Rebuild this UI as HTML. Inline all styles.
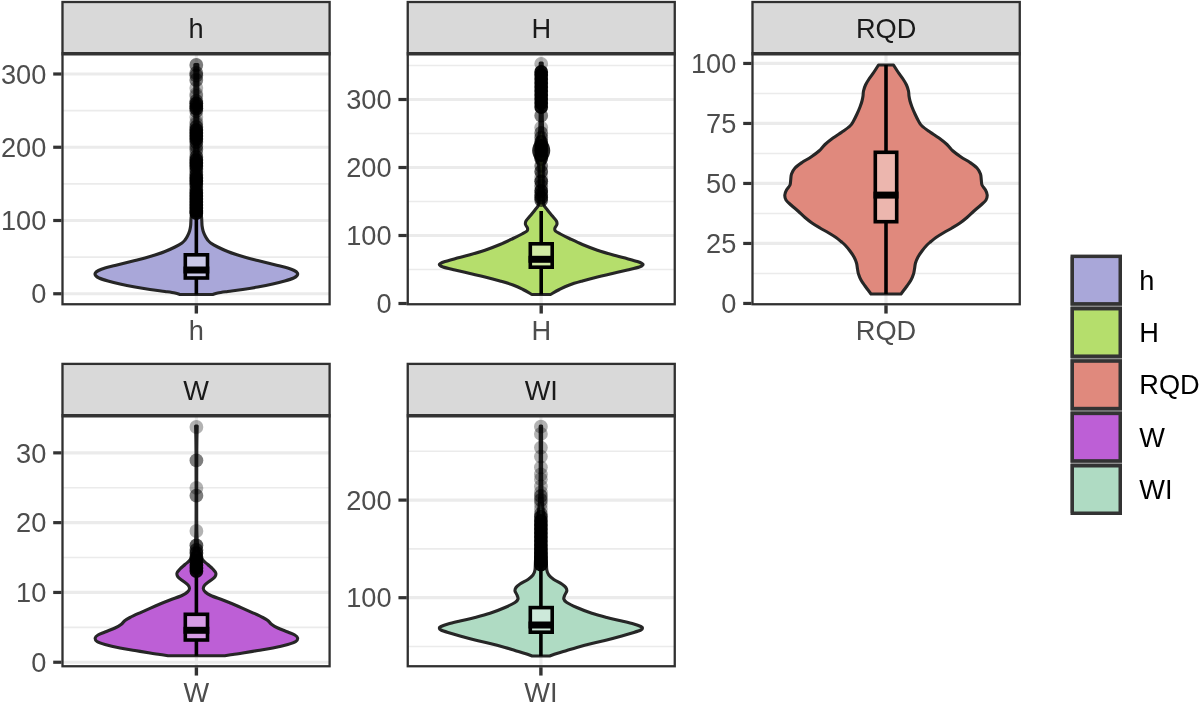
<!DOCTYPE html>
<html><head><meta charset="utf-8"><title>Violin plots</title>
<style>html,body{margin:0;padding:0;background:#fff}svg{display:block}text{font-family:"Liberation Sans",Arial,sans-serif;font-size:27.2px}</style>
</head><body>
<svg width="1200" height="704" viewBox="0 0 1200 704">
<rect width="1200" height="704" fill="#fff"/>
<rect x="61.50" y="1.00" width="269.10" height="52.75" fill="#D9D9D9"/>
<rect x="62.50" y="53.75" width="267.10" height="250.50" fill="#fff"/>
<line x1="62.50" x2="329.60" y1="257.12" y2="257.12" stroke="#EBEBEB" stroke-width="1.6"/>
<line x1="62.50" x2="329.60" y1="183.88" y2="183.88" stroke="#EBEBEB" stroke-width="1.6"/>
<line x1="62.50" x2="329.60" y1="110.62" y2="110.62" stroke="#EBEBEB" stroke-width="1.6"/>
<line x1="62.50" x2="329.60" y1="293.75" y2="293.75" stroke="#EBEBEB" stroke-width="3.2"/>
<line x1="62.50" x2="329.60" y1="220.50" y2="220.50" stroke="#EBEBEB" stroke-width="3.2"/>
<line x1="62.50" x2="329.60" y1="147.25" y2="147.25" stroke="#EBEBEB" stroke-width="3.2"/>
<line x1="62.50" x2="329.60" y1="74.00" y2="74.00" stroke="#EBEBEB" stroke-width="3.2"/>
<line x1="196.35" x2="196.35" y1="53.75" y2="304.25" stroke="#EBEBEB" stroke-width="3.2"/>
<path d="M194.85 64.50 C194.85 73.75 194.89 102.42 194.85 120.00 C194.81 137.58 194.74 157.50 194.60 170.00 C194.46 182.50 194.27 188.67 194.00 195.00 C193.73 201.33 193.45 204.50 193.00 208.00 C192.55 211.50 191.65 213.83 191.30 216.00 C190.95 218.17 191.02 219.33 190.90 221.00 C190.78 222.67 190.82 224.33 190.60 226.00 C190.38 227.67 190.12 229.33 189.60 231.00 C189.08 232.67 188.27 234.50 187.50 236.00 C186.73 237.50 185.92 238.83 185.00 240.00 C184.08 241.17 183.67 241.83 182.00 243.00 C180.33 244.17 177.83 245.58 175.00 247.00 C172.17 248.42 168.33 250.17 165.00 251.50 C161.67 252.83 158.33 253.92 155.00 255.00 C151.67 256.08 148.33 257.08 145.00 258.00 C141.67 258.92 138.33 259.67 135.00 260.50 C131.67 261.33 128.33 262.17 125.00 263.00 C121.67 263.83 118.33 264.67 115.00 265.50 C111.67 266.33 107.75 267.17 105.00 268.00 C102.25 268.83 100.12 269.67 98.50 270.50 C96.88 271.33 95.78 272.17 95.30 273.00 C94.82 273.83 94.98 274.67 95.60 275.50 C96.22 276.33 96.93 277.08 99.00 278.00 C101.07 278.92 104.50 280.00 108.00 281.00 C111.50 282.00 115.50 283.00 120.00 284.00 C124.50 285.00 130.00 286.08 135.00 287.00 C140.00 287.92 145.00 288.75 150.00 289.50 C155.00 290.25 160.83 290.92 165.00 291.50 C169.17 292.08 172.47 292.50 175.00 293.00 C177.53 293.50 179.33 294.25 180.20 294.50 L212.50 294.50 C213.37 294.25 215.17 293.50 217.70 293.00 C220.23 292.50 223.53 292.08 227.70 291.50 C231.87 290.92 237.70 290.25 242.70 289.50 C247.70 288.75 252.70 287.92 257.70 287.00 C262.70 286.08 268.20 285.00 272.70 284.00 C277.20 283.00 281.20 282.00 284.70 281.00 C288.20 280.00 291.63 278.92 293.70 278.00 C295.77 277.08 296.48 276.33 297.10 275.50 C297.72 274.67 297.88 273.83 297.40 273.00 C296.92 272.17 295.82 271.33 294.20 270.50 C292.58 269.67 290.45 268.83 287.70 268.00 C284.95 267.17 281.03 266.33 277.70 265.50 C274.37 264.67 271.03 263.83 267.70 263.00 C264.37 262.17 261.03 261.33 257.70 260.50 C254.37 259.67 251.03 258.92 247.70 258.00 C244.37 257.08 241.03 256.08 237.70 255.00 C234.37 253.92 231.03 252.83 227.70 251.50 C224.37 250.17 220.53 248.42 217.70 247.00 C214.87 245.58 212.37 244.17 210.70 243.00 C209.03 241.83 208.62 241.17 207.70 240.00 C206.78 238.83 205.97 237.50 205.20 236.00 C204.43 234.50 203.62 232.67 203.10 231.00 C202.58 229.33 202.32 227.67 202.10 226.00 C201.88 224.33 201.92 222.67 201.80 221.00 C201.68 219.33 201.75 218.17 201.40 216.00 C201.05 213.83 200.15 211.50 199.70 208.00 C199.25 204.50 198.97 201.33 198.70 195.00 C198.43 188.67 198.24 182.50 198.10 170.00 C197.96 157.50 197.89 137.58 197.85 120.00 C197.81 102.42 197.85 73.75 197.85 64.50 Z" fill="#A9A7D9" stroke="#262626" stroke-width="3.1" stroke-linejoin="round"/>
<line x1="196.35" x2="196.35" y1="218.00" y2="254.00" stroke="#000" stroke-width="3.6"/>
<line x1="196.35" x2="196.35" y1="278.80" y2="294.50" stroke="#000" stroke-width="3.6"/>
<rect x="185.30" y="254.80" width="22.20" height="23.20" fill="#fff" fill-opacity="0.38" stroke="#000" stroke-width="3.6"/>
<line x1="183.50" x2="209.30" y1="270.00" y2="270.00" stroke="#000" stroke-width="7"/>
<g fill="#000"><circle cx="196.3" cy="65.0" r="6.9" fill-opacity="0.510"/><circle cx="196.3" cy="73.0" r="6.9" fill-opacity="0.510"/><circle cx="196.3" cy="75.5" r="6.9" fill-opacity="0.510"/><circle cx="196.3" cy="80.0" r="6.9" fill-opacity="0.510"/><circle cx="196.3" cy="88.0" r="6.9" fill-opacity="0.300"/><circle cx="196.3" cy="94.0" r="6.9" fill-opacity="0.300"/><circle cx="196.3" cy="96.0" r="6.9" fill-opacity="0.300"/><circle cx="196.3" cy="101.0" r="6.9" fill-opacity="0.510"/><circle cx="196.3" cy="103.5" r="6.9" fill-opacity="0.832"/><circle cx="196.3" cy="106.0" r="6.9" fill-opacity="0.760"/><circle cx="196.3" cy="108.5" r="6.9" fill-opacity="0.832"/><circle cx="196.3" cy="111.0" r="6.9" fill-opacity="0.510"/><circle cx="196.3" cy="117.0" r="6.9" fill-opacity="0.300"/><circle cx="196.3" cy="122.0" r="6.9" fill-opacity="0.300"/><circle cx="196.3" cy="124.0" r="6.9" fill-opacity="0.300"/><circle cx="196.3" cy="127.0" r="6.9" fill-opacity="0.657"/><circle cx="196.3" cy="130.0" r="6.9" fill-opacity="0.882"/><circle cx="196.3" cy="133.0" r="6.9" fill-opacity="0.918"/><circle cx="196.3" cy="136.0" r="6.9" fill-opacity="0.918"/><circle cx="196.3" cy="139.0" r="6.9" fill-opacity="0.882"/><circle cx="196.3" cy="142.0" r="6.9" fill-opacity="0.657"/><circle cx="196.3" cy="146.0" r="6.9" fill-opacity="0.510"/><circle cx="196.3" cy="149.5" r="6.9" fill-opacity="0.510"/><circle cx="196.3" cy="153.0" r="6.9" fill-opacity="0.300"/><circle cx="196.3" cy="157.0" r="6.9" fill-opacity="0.657"/><circle cx="196.3" cy="160.0" r="6.9" fill-opacity="0.882"/><circle cx="196.3" cy="163.0" r="6.9" fill-opacity="0.942"/><circle cx="196.3" cy="166.0" r="6.9" fill-opacity="0.882"/><circle cx="196.3" cy="169.0" r="6.9" fill-opacity="0.657"/><circle cx="196.3" cy="172.0" r="6.9" fill-opacity="0.510"/><circle cx="196.3" cy="175.0" r="6.9" fill-opacity="0.760"/><circle cx="196.3" cy="178.0" r="6.9" fill-opacity="0.918"/><circle cx="196.3" cy="181.0" r="6.9" fill-opacity="0.942"/><circle cx="196.3" cy="184.0" r="6.9" fill-opacity="0.832"/><circle cx="196.3" cy="187.0" r="6.9" fill-opacity="0.510"/><circle cx="196.3" cy="190.0" r="6.9" fill-opacity="0.760"/><circle cx="196.3" cy="193.0" r="6.9" fill-opacity="0.918"/><circle cx="196.3" cy="196.0" r="6.9" fill-opacity="0.942"/><circle cx="196.3" cy="199.0" r="6.9" fill-opacity="0.942"/><circle cx="196.3" cy="202.0" r="6.9" fill-opacity="0.942"/><circle cx="196.3" cy="205.0" r="6.9" fill-opacity="0.972"/><circle cx="196.3" cy="208.0" r="6.9" fill-opacity="0.972"/><circle cx="196.3" cy="211.0" r="6.9" fill-opacity="0.972"/><circle cx="196.3" cy="213.0" r="6.9" fill-opacity="0.942"/></g>
<rect x="62.50" y="2.00" width="267.10" height="302.25" fill="none" stroke="#303030" stroke-width="2.3"/>
<line x1="61.50" x2="330.60" y1="53.75" y2="53.75" stroke="#333" stroke-width="3.5"/>
<line x1="53.20" x2="61.50" y1="293.75" y2="293.75" stroke="#333" stroke-width="3.2"/>
<text x="46.30" y="303.45" text-anchor="end" fill="#4D4D4D">0</text>
<line x1="53.20" x2="61.50" y1="220.50" y2="220.50" stroke="#333" stroke-width="3.2"/>
<text x="46.30" y="230.20" text-anchor="end" fill="#4D4D4D">100</text>
<line x1="53.20" x2="61.50" y1="147.25" y2="147.25" stroke="#333" stroke-width="3.2"/>
<text x="46.30" y="156.95" text-anchor="end" fill="#4D4D4D">200</text>
<line x1="53.20" x2="61.50" y1="74.00" y2="74.00" stroke="#333" stroke-width="3.2"/>
<text x="46.30" y="83.70" text-anchor="end" fill="#4D4D4D">300</text>
<line x1="196.35" x2="196.35" y1="305.25" y2="313.55" stroke="#333" stroke-width="3.4"/>
<text x="196.35" y="339.65" text-anchor="middle" fill="#4D4D4D">h</text>
<text x="196.05" y="37.60" text-anchor="middle" fill="#1A1A1A">h</text>
<rect x="406.75" y="1.00" width="269.00" height="52.75" fill="#D9D9D9"/>
<rect x="407.75" y="53.75" width="267.00" height="250.50" fill="#fff"/>
<line x1="407.75" x2="674.75" y1="269.50" y2="269.50" stroke="#EBEBEB" stroke-width="1.6"/>
<line x1="407.75" x2="674.75" y1="201.50" y2="201.50" stroke="#EBEBEB" stroke-width="1.6"/>
<line x1="407.75" x2="674.75" y1="133.50" y2="133.50" stroke="#EBEBEB" stroke-width="1.6"/>
<line x1="407.75" x2="674.75" y1="65.50" y2="65.50" stroke="#EBEBEB" stroke-width="1.6"/>
<line x1="407.75" x2="674.75" y1="235.50" y2="235.50" stroke="#EBEBEB" stroke-width="3.2"/>
<line x1="407.75" x2="674.75" y1="167.50" y2="167.50" stroke="#EBEBEB" stroke-width="3.2"/>
<line x1="407.75" x2="674.75" y1="99.50" y2="99.50" stroke="#EBEBEB" stroke-width="3.2"/>
<line x1="541.20" x2="541.20" y1="53.75" y2="304.25" stroke="#EBEBEB" stroke-width="3.2"/>
<path d="M540.20 63.00 C540.20 70.83 540.30 98.50 540.20 110.00 C540.10 121.50 540.05 127.00 539.60 132.00 C539.15 137.00 538.33 137.67 537.50 140.00 C536.67 142.33 535.23 144.25 534.60 146.00 C533.97 147.75 533.70 149.00 533.70 150.50 C533.70 152.00 533.97 153.25 534.60 155.00 C535.23 156.75 536.77 158.83 537.50 161.00 C538.23 163.17 538.72 164.00 539.00 168.00 C539.28 172.00 539.20 180.00 539.20 185.00 C539.20 190.00 539.12 194.67 539.00 198.00 C538.88 201.33 539.17 203.00 538.50 205.00 C537.83 207.00 536.42 208.17 535.00 210.00 C533.58 211.83 531.50 214.17 530.00 216.00 C528.50 217.83 526.75 219.58 526.00 221.00 C525.25 222.42 525.25 223.33 525.50 224.50 C525.75 225.67 527.25 226.92 527.50 228.00 C527.75 229.08 527.92 230.00 527.00 231.00 C526.08 232.00 524.33 232.75 522.00 234.00 C519.67 235.25 516.67 236.75 513.00 238.50 C509.33 240.25 504.67 242.55 500.00 244.50 C495.33 246.45 490.00 248.48 485.00 250.20 C480.00 251.92 475.00 253.38 470.00 254.80 C465.00 256.22 459.17 257.58 455.00 258.70 C450.83 259.82 447.45 260.70 445.00 261.50 C442.55 262.30 441.20 262.92 440.30 263.50 C439.40 264.08 439.15 264.42 439.60 265.00 C440.05 265.58 440.43 266.17 443.00 267.00 C445.57 267.83 450.50 268.92 455.00 270.00 C459.50 271.08 465.00 272.33 470.00 273.50 C475.00 274.67 480.00 275.75 485.00 277.00 C490.00 278.25 495.33 279.67 500.00 281.00 C504.67 282.33 509.17 283.58 513.00 285.00 C516.83 286.42 519.83 287.92 523.00 289.50 C526.17 291.08 530.50 293.67 532.00 294.50 L550.40 294.50 C551.90 293.67 556.23 291.08 559.40 289.50 C562.57 287.92 565.57 286.42 569.40 285.00 C573.23 283.58 577.73 282.33 582.40 281.00 C587.07 279.67 592.40 278.25 597.40 277.00 C602.40 275.75 607.40 274.67 612.40 273.50 C617.40 272.33 622.90 271.08 627.40 270.00 C631.90 268.92 636.83 267.83 639.40 267.00 C641.97 266.17 642.35 265.58 642.80 265.00 C643.25 264.42 643.00 264.08 642.10 263.50 C641.20 262.92 639.85 262.30 637.40 261.50 C634.95 260.70 631.57 259.82 627.40 258.70 C623.23 257.58 617.40 256.22 612.40 254.80 C607.40 253.38 602.40 251.92 597.40 250.20 C592.40 248.48 587.07 246.45 582.40 244.50 C577.73 242.55 573.07 240.25 569.40 238.50 C565.73 236.75 562.73 235.25 560.40 234.00 C558.07 232.75 556.32 232.00 555.40 231.00 C554.48 230.00 554.65 229.08 554.90 228.00 C555.15 226.92 556.65 225.67 556.90 224.50 C557.15 223.33 557.15 222.42 556.40 221.00 C555.65 219.58 553.90 217.83 552.40 216.00 C550.90 214.17 548.82 211.83 547.40 210.00 C545.98 208.17 544.57 207.00 543.90 205.00 C543.23 203.00 543.52 201.33 543.40 198.00 C543.28 194.67 543.20 190.00 543.20 185.00 C543.20 180.00 543.12 172.00 543.40 168.00 C543.68 164.00 544.17 163.17 544.90 161.00 C545.63 158.83 547.17 156.75 547.80 155.00 C548.43 153.25 548.70 152.00 548.70 150.50 C548.70 149.00 548.43 147.75 547.80 146.00 C547.17 144.25 545.73 142.33 544.90 140.00 C544.07 137.67 543.25 137.00 542.80 132.00 C542.35 127.00 542.30 121.50 542.20 110.00 C542.10 98.50 542.20 70.83 542.20 63.00 Z" fill="#B5DE6C" stroke="#262626" stroke-width="3.1" stroke-linejoin="round"/>
<line x1="541.20" x2="541.20" y1="211.00" y2="243.00" stroke="#000" stroke-width="3.6"/>
<line x1="541.20" x2="541.20" y1="268.00" y2="294.50" stroke="#000" stroke-width="3.6"/>
<rect x="530.30" y="243.80" width="21.90" height="23.40" fill="#fff" fill-opacity="0.38" stroke="#000" stroke-width="3.6"/>
<line x1="528.50" x2="554.00" y1="259.30" y2="259.30" stroke="#000" stroke-width="7"/>
<g fill="#000"><circle cx="541.2" cy="63.8" r="6.9" fill-opacity="0.300"/><circle cx="541.2" cy="72.0" r="6.9" fill-opacity="0.942"/><circle cx="541.2" cy="75.0" r="6.9" fill-opacity="0.972"/><circle cx="541.2" cy="79.0" r="6.9" fill-opacity="0.972"/><circle cx="541.2" cy="83.0" r="6.9" fill-opacity="0.972"/><circle cx="541.2" cy="87.0" r="6.9" fill-opacity="0.972"/><circle cx="541.2" cy="91.0" r="6.9" fill-opacity="0.972"/><circle cx="541.2" cy="95.0" r="6.9" fill-opacity="0.972"/><circle cx="541.2" cy="99.0" r="6.9" fill-opacity="0.972"/><circle cx="541.2" cy="103.0" r="6.9" fill-opacity="0.972"/><circle cx="541.2" cy="107.0" r="6.9" fill-opacity="0.942"/><circle cx="541.2" cy="115.7" r="6.9" fill-opacity="0.510"/><circle cx="541.2" cy="127.6" r="6.9" fill-opacity="0.300"/><circle cx="541.2" cy="133.0" r="6.9" fill-opacity="0.510"/><circle cx="541.2" cy="137.6" r="6.9" fill-opacity="0.510"/><circle cx="541.2" cy="142.0" r="6.9" fill-opacity="0.760"/><circle cx="541.2" cy="146.0" r="6.9" fill-opacity="0.942"/><circle cx="541.2" cy="150.5" r="6.9" fill-opacity="0.986"/><circle cx="541.2" cy="155.0" r="6.9" fill-opacity="0.942"/><circle cx="541.2" cy="158.5" r="6.9" fill-opacity="0.760"/><circle cx="541.2" cy="165.8" r="6.9" fill-opacity="0.510"/><circle cx="541.2" cy="171.7" r="6.9" fill-opacity="0.657"/><circle cx="541.2" cy="177.0" r="6.9" fill-opacity="0.300"/><circle cx="541.2" cy="181.3" r="6.9" fill-opacity="0.760"/><circle cx="541.2" cy="186.0" r="6.9" fill-opacity="0.510"/><circle cx="541.2" cy="190.8" r="6.9" fill-opacity="0.832"/><circle cx="541.2" cy="194.5" r="6.9" fill-opacity="0.657"/><circle cx="541.2" cy="197.5" r="6.9" fill-opacity="0.760"/><circle cx="541.2" cy="200.0" r="6.9" fill-opacity="0.657"/></g>
<rect x="407.75" y="2.00" width="267.00" height="302.25" fill="none" stroke="#303030" stroke-width="2.3"/>
<line x1="406.75" x2="675.75" y1="53.75" y2="53.75" stroke="#333" stroke-width="3.5"/>
<line x1="398.45" x2="406.75" y1="303.50" y2="303.50" stroke="#333" stroke-width="3.2"/>
<text x="391.55" y="313.20" text-anchor="end" fill="#4D4D4D">0</text>
<line x1="398.45" x2="406.75" y1="235.50" y2="235.50" stroke="#333" stroke-width="3.2"/>
<text x="391.55" y="245.20" text-anchor="end" fill="#4D4D4D">100</text>
<line x1="398.45" x2="406.75" y1="167.50" y2="167.50" stroke="#333" stroke-width="3.2"/>
<text x="391.55" y="177.20" text-anchor="end" fill="#4D4D4D">200</text>
<line x1="398.45" x2="406.75" y1="99.50" y2="99.50" stroke="#333" stroke-width="3.2"/>
<text x="391.55" y="109.20" text-anchor="end" fill="#4D4D4D">300</text>
<line x1="541.20" x2="541.20" y1="305.25" y2="313.55" stroke="#333" stroke-width="3.4"/>
<text x="541.20" y="339.65" text-anchor="middle" fill="#4D4D4D">H</text>
<text x="541.25" y="37.60" text-anchor="middle" fill="#1A1A1A">H</text>
<rect x="751.50" y="1.00" width="269.25" height="52.75" fill="#D9D9D9"/>
<rect x="752.50" y="53.75" width="267.25" height="250.50" fill="#fff"/>
<line x1="752.50" x2="1019.75" y1="273.45" y2="273.45" stroke="#EBEBEB" stroke-width="1.6"/>
<line x1="752.50" x2="1019.75" y1="213.45" y2="213.45" stroke="#EBEBEB" stroke-width="1.6"/>
<line x1="752.50" x2="1019.75" y1="153.45" y2="153.45" stroke="#EBEBEB" stroke-width="1.6"/>
<line x1="752.50" x2="1019.75" y1="93.45" y2="93.45" stroke="#EBEBEB" stroke-width="1.6"/>
<line x1="752.50" x2="1019.75" y1="243.45" y2="243.45" stroke="#EBEBEB" stroke-width="3.2"/>
<line x1="752.50" x2="1019.75" y1="183.45" y2="183.45" stroke="#EBEBEB" stroke-width="3.2"/>
<line x1="752.50" x2="1019.75" y1="123.45" y2="123.45" stroke="#EBEBEB" stroke-width="3.2"/>
<line x1="752.50" x2="1019.75" y1="63.45" y2="63.45" stroke="#EBEBEB" stroke-width="3.2"/>
<line x1="886.00" x2="886.00" y1="53.75" y2="304.25" stroke="#EBEBEB" stroke-width="3.2"/>
<path d="M878.50 65.00 C877.75 66.17 875.58 69.67 874.00 72.00 C872.42 74.33 870.42 76.83 869.00 79.00 C867.58 81.17 866.42 83.00 865.50 85.00 C864.58 87.00 863.92 89.17 863.50 91.00 C863.08 92.83 863.25 94.33 863.00 96.00 C862.75 97.67 862.50 99.17 862.00 101.00 C861.50 102.83 860.83 104.83 860.00 107.00 C859.17 109.17 858.08 111.67 857.00 114.00 C855.92 116.33 854.67 119.00 853.50 121.00 C852.33 123.00 851.92 124.17 850.00 126.00 C848.08 127.83 844.83 130.00 842.00 132.00 C839.17 134.00 835.83 135.92 833.00 138.00 C830.17 140.08 827.33 142.33 825.00 144.50 C822.67 146.67 821.33 148.92 819.00 151.00 C816.67 153.08 813.83 155.08 811.00 157.00 C808.17 158.92 804.67 160.67 802.00 162.50 C799.33 164.33 796.75 166.08 795.00 168.00 C793.25 169.92 792.22 172.00 791.50 174.00 C790.78 176.00 790.95 178.17 790.70 180.00 C790.45 181.83 790.70 183.33 790.00 185.00 C789.30 186.67 787.37 188.33 786.50 190.00 C785.63 191.67 784.88 193.33 784.80 195.00 C784.72 196.67 784.97 198.33 786.00 200.00 C787.03 201.67 789.00 203.17 791.00 205.00 C793.00 206.83 795.67 208.92 798.00 211.00 C800.33 213.08 802.67 215.50 805.00 217.50 C807.33 219.50 809.50 221.25 812.00 223.00 C814.50 224.75 817.33 226.42 820.00 228.00 C822.67 229.58 825.33 230.92 828.00 232.50 C830.67 234.08 833.83 236.00 836.00 237.50 C838.17 239.00 839.50 240.25 841.00 241.50 C842.50 242.75 843.50 243.42 845.00 245.00 C846.50 246.58 848.50 249.00 850.00 251.00 C851.50 253.00 852.92 255.00 854.00 257.00 C855.08 259.00 855.92 261.00 856.50 263.00 C857.08 265.00 857.17 267.17 857.50 269.00 C857.83 270.83 857.92 272.17 858.50 274.00 C859.08 275.83 859.92 278.00 861.00 280.00 C862.08 282.00 863.33 283.67 865.00 286.00 C866.67 288.33 870.00 292.67 871.00 294.00 L901.00 294.00 C902.00 292.67 905.33 288.33 907.00 286.00 C908.67 283.67 909.92 282.00 911.00 280.00 C912.08 278.00 912.92 275.83 913.50 274.00 C914.08 272.17 914.17 270.83 914.50 269.00 C914.83 267.17 914.92 265.00 915.50 263.00 C916.08 261.00 916.92 259.00 918.00 257.00 C919.08 255.00 920.50 253.00 922.00 251.00 C923.50 249.00 925.50 246.58 927.00 245.00 C928.50 243.42 929.50 242.75 931.00 241.50 C932.50 240.25 933.83 239.00 936.00 237.50 C938.17 236.00 941.33 234.08 944.00 232.50 C946.67 230.92 949.33 229.58 952.00 228.00 C954.67 226.42 957.50 224.75 960.00 223.00 C962.50 221.25 964.67 219.50 967.00 217.50 C969.33 215.50 971.67 213.08 974.00 211.00 C976.33 208.92 979.00 206.83 981.00 205.00 C983.00 203.17 984.97 201.67 986.00 200.00 C987.03 198.33 987.28 196.67 987.20 195.00 C987.12 193.33 986.37 191.67 985.50 190.00 C984.63 188.33 982.70 186.67 982.00 185.00 C981.30 183.33 981.55 181.83 981.30 180.00 C981.05 178.17 981.22 176.00 980.50 174.00 C979.78 172.00 978.75 169.92 977.00 168.00 C975.25 166.08 972.67 164.33 970.00 162.50 C967.33 160.67 963.83 158.92 961.00 157.00 C958.17 155.08 955.33 153.08 953.00 151.00 C950.67 148.92 949.33 146.67 947.00 144.50 C944.67 142.33 941.83 140.08 939.00 138.00 C936.17 135.92 932.83 134.00 930.00 132.00 C927.17 130.00 923.92 127.83 922.00 126.00 C920.08 124.17 919.67 123.00 918.50 121.00 C917.33 119.00 916.08 116.33 915.00 114.00 C913.92 111.67 912.83 109.17 912.00 107.00 C911.17 104.83 910.50 102.83 910.00 101.00 C909.50 99.17 909.25 97.67 909.00 96.00 C908.75 94.33 908.92 92.83 908.50 91.00 C908.08 89.17 907.42 87.00 906.50 85.00 C905.58 83.00 904.42 81.17 903.00 79.00 C901.58 76.83 899.58 74.33 898.00 72.00 C896.42 69.67 894.25 66.17 893.50 65.00 Z" fill="#E0897D" stroke="#262626" stroke-width="3.1" stroke-linejoin="round"/>
<line x1="886.00" x2="886.00" y1="65.00" y2="151.50" stroke="#000" stroke-width="3.6"/>
<line x1="886.00" x2="886.00" y1="222.50" y2="294.00" stroke="#000" stroke-width="3.6"/>
<rect x="875.30" y="152.30" width="21.40" height="69.40" fill="#fff" fill-opacity="0.38" stroke="#000" stroke-width="3.6"/>
<line x1="873.50" x2="898.50" y1="195.10" y2="195.10" stroke="#000" stroke-width="7"/>
<rect x="752.50" y="2.00" width="267.25" height="302.25" fill="none" stroke="#303030" stroke-width="2.3"/>
<line x1="751.50" x2="1020.75" y1="53.75" y2="53.75" stroke="#333" stroke-width="3.5"/>
<line x1="743.20" x2="751.50" y1="303.45" y2="303.45" stroke="#333" stroke-width="3.2"/>
<text x="736.30" y="313.15" text-anchor="end" fill="#4D4D4D">0</text>
<line x1="743.20" x2="751.50" y1="243.45" y2="243.45" stroke="#333" stroke-width="3.2"/>
<text x="736.30" y="253.15" text-anchor="end" fill="#4D4D4D">25</text>
<line x1="743.20" x2="751.50" y1="183.45" y2="183.45" stroke="#333" stroke-width="3.2"/>
<text x="736.30" y="193.15" text-anchor="end" fill="#4D4D4D">50</text>
<line x1="743.20" x2="751.50" y1="123.45" y2="123.45" stroke="#333" stroke-width="3.2"/>
<text x="736.30" y="133.15" text-anchor="end" fill="#4D4D4D">75</text>
<line x1="743.20" x2="751.50" y1="63.45" y2="63.45" stroke="#333" stroke-width="3.2"/>
<text x="736.30" y="73.15" text-anchor="end" fill="#4D4D4D">100</text>
<line x1="886.00" x2="886.00" y1="305.25" y2="313.55" stroke="#333" stroke-width="3.4"/>
<text x="886.00" y="339.65" text-anchor="middle" fill="#4D4D4D">RQD</text>
<text x="886.12" y="37.60" text-anchor="middle" fill="#1A1A1A">RQD</text>
<rect x="61.50" y="362.90" width="269.10" height="52.85" fill="#D9D9D9"/>
<rect x="62.50" y="415.75" width="267.10" height="250.50" fill="#fff"/>
<line x1="62.50" x2="329.60" y1="627.35" y2="627.35" stroke="#EBEBEB" stroke-width="1.6"/>
<line x1="62.50" x2="329.60" y1="557.55" y2="557.55" stroke="#EBEBEB" stroke-width="1.6"/>
<line x1="62.50" x2="329.60" y1="487.75" y2="487.75" stroke="#EBEBEB" stroke-width="1.6"/>
<line x1="62.50" x2="329.60" y1="662.25" y2="662.25" stroke="#EBEBEB" stroke-width="3.2"/>
<line x1="62.50" x2="329.60" y1="592.45" y2="592.45" stroke="#EBEBEB" stroke-width="3.2"/>
<line x1="62.50" x2="329.60" y1="522.65" y2="522.65" stroke="#EBEBEB" stroke-width="3.2"/>
<line x1="62.50" x2="329.60" y1="452.85" y2="452.85" stroke="#EBEBEB" stroke-width="3.2"/>
<line x1="196.40" x2="196.40" y1="415.75" y2="666.25" stroke="#EBEBEB" stroke-width="3.2"/>
<path d="M195.60 426.00 C195.67 430.00 195.92 434.33 196.00 450.00 C196.08 465.67 196.17 505.00 196.10 520.00 C196.03 535.00 195.95 534.67 195.60 540.00 C195.25 545.33 194.93 548.67 194.00 552.00 C193.07 555.33 191.50 557.92 190.00 560.00 C188.50 562.08 186.67 563.00 185.00 564.50 C183.33 566.00 181.33 567.58 180.00 569.00 C178.67 570.42 177.33 571.67 177.00 573.00 C176.67 574.33 177.00 575.67 178.00 577.00 C179.00 578.33 181.33 579.67 183.00 581.00 C184.67 582.33 186.92 583.75 188.00 585.00 C189.08 586.25 189.58 587.33 189.50 588.50 C189.42 589.67 188.75 590.83 187.50 592.00 C186.25 593.17 184.92 594.17 182.00 595.50 C179.08 596.83 173.67 598.58 170.00 600.00 C166.33 601.42 163.33 602.62 160.00 604.00 C156.67 605.38 153.33 606.83 150.00 608.30 C146.67 609.77 143.33 611.27 140.00 612.80 C136.67 614.33 132.50 616.22 130.00 617.50 C127.50 618.78 126.50 619.33 125.00 620.50 C123.50 621.67 122.67 623.25 121.00 624.50 C119.33 625.75 117.67 626.75 115.00 628.00 C112.33 629.25 107.83 630.83 105.00 632.00 C102.17 633.17 99.63 634.00 98.00 635.00 C96.37 636.00 95.37 636.92 95.20 638.00 C95.03 639.08 95.37 640.42 97.00 641.50 C98.63 642.58 101.17 643.42 105.00 644.50 C108.83 645.58 115.00 647.00 120.00 648.00 C125.00 649.00 130.00 649.67 135.00 650.50 C140.00 651.33 145.83 652.33 150.00 653.00 C154.17 653.67 157.00 654.03 160.00 654.50 C163.00 654.97 166.67 655.58 168.00 655.80 L224.80 655.80 C226.13 655.58 229.80 654.97 232.80 654.50 C235.80 654.03 238.63 653.67 242.80 653.00 C246.97 652.33 252.80 651.33 257.80 650.50 C262.80 649.67 267.80 649.00 272.80 648.00 C277.80 647.00 283.97 645.58 287.80 644.50 C291.63 643.42 294.17 642.58 295.80 641.50 C297.43 640.42 297.77 639.08 297.60 638.00 C297.43 636.92 296.43 636.00 294.80 635.00 C293.17 634.00 290.63 633.17 287.80 632.00 C284.97 630.83 280.47 629.25 277.80 628.00 C275.13 626.75 273.47 625.75 271.80 624.50 C270.13 623.25 269.30 621.67 267.80 620.50 C266.30 619.33 265.30 618.78 262.80 617.50 C260.30 616.22 256.13 614.33 252.80 612.80 C249.47 611.27 246.13 609.77 242.80 608.30 C239.47 606.83 236.13 605.38 232.80 604.00 C229.47 602.62 226.47 601.42 222.80 600.00 C219.13 598.58 213.72 596.83 210.80 595.50 C207.88 594.17 206.55 593.17 205.30 592.00 C204.05 590.83 203.38 589.67 203.30 588.50 C203.22 587.33 203.72 586.25 204.80 585.00 C205.88 583.75 208.13 582.33 209.80 581.00 C211.47 579.67 213.80 578.33 214.80 577.00 C215.80 575.67 216.13 574.33 215.80 573.00 C215.47 571.67 214.13 570.42 212.80 569.00 C211.47 567.58 209.47 566.00 207.80 564.50 C206.13 563.00 204.30 562.08 202.80 560.00 C201.30 557.92 199.73 555.33 198.80 552.00 C197.87 548.67 197.55 545.33 197.20 540.00 C196.85 534.67 196.77 535.00 196.70 520.00 C196.63 505.00 196.72 465.67 196.80 450.00 C196.88 434.33 197.13 430.00 197.20 426.00 Z" fill="#BD5FD6" stroke="#262626" stroke-width="3.1" stroke-linejoin="round"/>
<line x1="196.40" x2="196.40" y1="574.00" y2="613.50" stroke="#000" stroke-width="3.6"/>
<line x1="196.40" x2="196.40" y1="640.80" y2="655.80" stroke="#000" stroke-width="3.6"/>
<rect x="185.30" y="614.30" width="22.20" height="25.70" fill="#fff" fill-opacity="0.38" stroke="#000" stroke-width="3.6"/>
<line x1="183.50" x2="209.30" y1="630.30" y2="630.30" stroke="#000" stroke-width="7"/>
<g fill="#000"><circle cx="196.4" cy="427.0" r="6.9" fill-opacity="0.300"/><circle cx="196.4" cy="460.4" r="6.9" fill-opacity="0.510"/><circle cx="196.4" cy="487.9" r="6.9" fill-opacity="0.300"/><circle cx="196.4" cy="495.7" r="6.9" fill-opacity="0.510"/><circle cx="196.4" cy="531.0" r="6.9" fill-opacity="0.300"/><circle cx="196.4" cy="545.4" r="6.9" fill-opacity="0.657"/><circle cx="196.4" cy="550.0" r="6.9" fill-opacity="0.657"/><circle cx="196.4" cy="553.0" r="6.9" fill-opacity="0.760"/><circle cx="196.4" cy="557.0" r="6.9" fill-opacity="0.832"/><circle cx="196.4" cy="561.0" r="6.9" fill-opacity="0.882"/><circle cx="196.4" cy="565.0" r="6.9" fill-opacity="0.942"/><circle cx="196.4" cy="568.0" r="6.9" fill-opacity="0.942"/><circle cx="196.4" cy="571.0" r="6.9" fill-opacity="0.942"/></g>
<rect x="62.50" y="363.90" width="267.10" height="302.35" fill="none" stroke="#303030" stroke-width="2.3"/>
<line x1="61.50" x2="330.60" y1="415.75" y2="415.75" stroke="#333" stroke-width="3.5"/>
<line x1="53.20" x2="61.50" y1="662.25" y2="662.25" stroke="#333" stroke-width="3.2"/>
<text x="46.30" y="671.95" text-anchor="end" fill="#4D4D4D">0</text>
<line x1="53.20" x2="61.50" y1="592.45" y2="592.45" stroke="#333" stroke-width="3.2"/>
<text x="46.30" y="602.15" text-anchor="end" fill="#4D4D4D">10</text>
<line x1="53.20" x2="61.50" y1="522.65" y2="522.65" stroke="#333" stroke-width="3.2"/>
<text x="46.30" y="532.35" text-anchor="end" fill="#4D4D4D">20</text>
<line x1="53.20" x2="61.50" y1="452.85" y2="452.85" stroke="#333" stroke-width="3.2"/>
<text x="46.30" y="462.55" text-anchor="end" fill="#4D4D4D">30</text>
<line x1="196.40" x2="196.40" y1="667.25" y2="675.55" stroke="#333" stroke-width="3.4"/>
<text x="196.40" y="701.65" text-anchor="middle" fill="#4D4D4D">W</text>
<text x="196.05" y="399.50" text-anchor="middle" fill="#1A1A1A">W</text>
<rect x="406.75" y="362.90" width="269.00" height="52.85" fill="#D9D9D9"/>
<rect x="407.75" y="415.75" width="267.00" height="250.50" fill="#fff"/>
<line x1="407.75" x2="674.75" y1="646.50" y2="646.50" stroke="#EBEBEB" stroke-width="1.6"/>
<line x1="407.75" x2="674.75" y1="548.90" y2="548.90" stroke="#EBEBEB" stroke-width="1.6"/>
<line x1="407.75" x2="674.75" y1="451.30" y2="451.30" stroke="#EBEBEB" stroke-width="1.6"/>
<line x1="407.75" x2="674.75" y1="597.70" y2="597.70" stroke="#EBEBEB" stroke-width="3.2"/>
<line x1="407.75" x2="674.75" y1="500.10" y2="500.10" stroke="#EBEBEB" stroke-width="3.2"/>
<line x1="540.90" x2="540.90" y1="415.75" y2="666.25" stroke="#EBEBEB" stroke-width="3.2"/>
<path d="M540.20 426.00 C540.20 433.33 540.30 457.67 540.20 470.00 C540.10 482.33 540.03 491.67 539.60 500.00 C539.17 508.33 538.15 512.50 537.60 520.00 C537.05 527.50 536.65 538.33 536.30 545.00 C535.95 551.67 535.72 555.83 535.50 560.00 C535.28 564.17 535.42 567.50 535.00 570.00 C534.58 572.50 534.17 573.42 533.00 575.00 C531.83 576.58 530.17 578.00 528.00 579.50 C525.83 581.00 522.00 582.67 520.00 584.00 C518.00 585.33 516.83 586.33 516.00 587.50 C515.17 588.67 514.83 589.75 515.00 591.00 C515.17 592.25 516.50 593.67 517.00 595.00 C517.50 596.33 518.33 597.75 518.00 599.00 C517.67 600.25 517.17 601.08 515.00 602.50 C512.83 603.92 509.17 605.70 505.00 607.50 C500.83 609.30 495.00 611.63 490.00 613.30 C485.00 614.97 480.00 616.22 475.00 617.50 C470.00 618.78 464.50 619.92 460.00 621.00 C455.50 622.08 451.17 623.08 448.00 624.00 C444.83 624.92 442.45 625.83 441.00 626.50 C439.55 627.17 439.30 627.42 439.30 628.00 C439.30 628.58 439.55 629.25 441.00 630.00 C442.45 630.75 444.83 631.50 448.00 632.50 C451.17 633.50 455.50 634.75 460.00 636.00 C464.50 637.25 470.00 638.75 475.00 640.00 C480.00 641.25 485.00 642.25 490.00 643.50 C495.00 644.75 500.83 646.33 505.00 647.50 C509.17 648.67 511.67 649.50 515.00 650.50 C518.33 651.50 522.17 652.58 525.00 653.50 C527.83 654.42 530.83 655.58 532.00 656.00 L549.80 656.00 C550.97 655.58 553.97 654.42 556.80 653.50 C559.63 652.58 563.47 651.50 566.80 650.50 C570.13 649.50 572.63 648.67 576.80 647.50 C580.97 646.33 586.80 644.75 591.80 643.50 C596.80 642.25 601.80 641.25 606.80 640.00 C611.80 638.75 617.30 637.25 621.80 636.00 C626.30 634.75 630.63 633.50 633.80 632.50 C636.97 631.50 639.35 630.75 640.80 630.00 C642.25 629.25 642.50 628.58 642.50 628.00 C642.50 627.42 642.25 627.17 640.80 626.50 C639.35 625.83 636.97 624.92 633.80 624.00 C630.63 623.08 626.30 622.08 621.80 621.00 C617.30 619.92 611.80 618.78 606.80 617.50 C601.80 616.22 596.80 614.97 591.80 613.30 C586.80 611.63 580.97 609.30 576.80 607.50 C572.63 605.70 568.97 603.92 566.80 602.50 C564.63 601.08 564.13 600.25 563.80 599.00 C563.47 597.75 564.30 596.33 564.80 595.00 C565.30 593.67 566.63 592.25 566.80 591.00 C566.97 589.75 566.63 588.67 565.80 587.50 C564.97 586.33 563.80 585.33 561.80 584.00 C559.80 582.67 555.97 581.00 553.80 579.50 C551.63 578.00 549.97 576.58 548.80 575.00 C547.63 573.42 547.22 572.50 546.80 570.00 C546.38 567.50 546.52 564.17 546.30 560.00 C546.08 555.83 545.85 551.67 545.50 545.00 C545.15 538.33 544.75 527.50 544.20 520.00 C543.65 512.50 542.63 508.33 542.20 500.00 C541.77 491.67 541.70 482.33 541.60 470.00 C541.50 457.67 541.60 433.33 541.60 426.00 Z" fill="#AFDBC3" stroke="#262626" stroke-width="3.1" stroke-linejoin="round"/>
<line x1="540.90" x2="540.90" y1="566.00" y2="606.80" stroke="#000" stroke-width="3.6"/>
<line x1="540.90" x2="540.90" y1="633.00" y2="656.00" stroke="#000" stroke-width="3.6"/>
<rect x="530.30" y="607.60" width="21.90" height="24.60" fill="#fff" fill-opacity="0.38" stroke="#000" stroke-width="3.6"/>
<line x1="528.50" x2="554.00" y1="625.00" y2="625.00" stroke="#000" stroke-width="7"/>
<g fill="#000"><circle cx="540.9" cy="426.7" r="6.9" fill-opacity="0.300"/><circle cx="540.9" cy="433.9" r="6.9" fill-opacity="0.300"/><circle cx="540.9" cy="447.6" r="6.9" fill-opacity="0.300"/><circle cx="540.9" cy="456.6" r="6.9" fill-opacity="0.300"/><circle cx="540.9" cy="467.3" r="6.9" fill-opacity="0.300"/><circle cx="540.9" cy="474.5" r="6.9" fill-opacity="0.300"/><circle cx="540.9" cy="479.2" r="6.9" fill-opacity="0.300"/><circle cx="540.9" cy="486.4" r="6.9" fill-opacity="0.300"/><circle cx="540.9" cy="492.4" r="6.9" fill-opacity="0.300"/><circle cx="540.9" cy="496.0" r="6.9" fill-opacity="0.510"/><circle cx="540.9" cy="500.0" r="6.9" fill-opacity="0.510"/><circle cx="540.9" cy="504.0" r="6.9" fill-opacity="0.300"/><circle cx="540.9" cy="509.0" r="6.9" fill-opacity="0.300"/><circle cx="540.9" cy="514.0" r="6.9" fill-opacity="0.510"/><circle cx="540.9" cy="517.0" r="6.9" fill-opacity="0.760"/><circle cx="540.9" cy="521.0" r="6.9" fill-opacity="0.918"/><circle cx="540.9" cy="525.0" r="6.9" fill-opacity="0.972"/><circle cx="540.9" cy="529.0" r="6.9" fill-opacity="0.972"/><circle cx="540.9" cy="533.0" r="6.9" fill-opacity="0.972"/><circle cx="540.9" cy="537.0" r="6.9" fill-opacity="0.972"/><circle cx="540.9" cy="541.0" r="6.9" fill-opacity="0.972"/><circle cx="540.9" cy="545.0" r="6.9" fill-opacity="0.972"/><circle cx="540.9" cy="549.0" r="6.9" fill-opacity="0.972"/><circle cx="540.9" cy="553.0" r="6.9" fill-opacity="0.972"/><circle cx="540.9" cy="557.0" r="6.9" fill-opacity="0.972"/><circle cx="540.9" cy="561.0" r="6.9" fill-opacity="0.972"/><circle cx="540.9" cy="564.5" r="6.9" fill-opacity="0.972"/></g>
<rect x="407.75" y="363.90" width="267.00" height="302.35" fill="none" stroke="#303030" stroke-width="2.3"/>
<line x1="406.75" x2="675.75" y1="415.75" y2="415.75" stroke="#333" stroke-width="3.5"/>
<line x1="398.45" x2="406.75" y1="597.70" y2="597.70" stroke="#333" stroke-width="3.2"/>
<text x="391.55" y="607.40" text-anchor="end" fill="#4D4D4D">100</text>
<line x1="398.45" x2="406.75" y1="500.10" y2="500.10" stroke="#333" stroke-width="3.2"/>
<text x="391.55" y="509.80" text-anchor="end" fill="#4D4D4D">200</text>
<line x1="540.90" x2="540.90" y1="667.25" y2="675.55" stroke="#333" stroke-width="3.4"/>
<text x="540.90" y="701.65" text-anchor="middle" fill="#4D4D4D">WI</text>
<text x="541.25" y="399.50" text-anchor="middle" fill="#1A1A1A">WI</text>
<rect x="1070.5" y="256.60" width="51.5" height="256.40" fill="#8C8C8C"/>
<rect x="1072.25" y="256.35" width="48.00" height="47.50" fill="#A9A7D9" stroke="#333" stroke-width="3.5"/>
<text x="1139.3" y="289.70" fill="#000">h</text>
<rect x="1072.25" y="308.70" width="48.00" height="47.50" fill="#B5DE6C" stroke="#333" stroke-width="3.5"/>
<text x="1139.3" y="342.05" fill="#000">H</text>
<rect x="1072.25" y="361.05" width="48.00" height="47.50" fill="#E0897D" stroke="#333" stroke-width="3.5"/>
<text x="1139.3" y="394.40" fill="#000">RQD</text>
<rect x="1072.25" y="413.40" width="48.00" height="47.50" fill="#BD5FD6" stroke="#333" stroke-width="3.5"/>
<text x="1139.3" y="446.75" fill="#000">W</text>
<rect x="1072.25" y="465.75" width="48.00" height="47.50" fill="#AFDBC3" stroke="#333" stroke-width="3.5"/>
<text x="1139.3" y="499.10" fill="#000">WI</text>
</svg></body></html>
